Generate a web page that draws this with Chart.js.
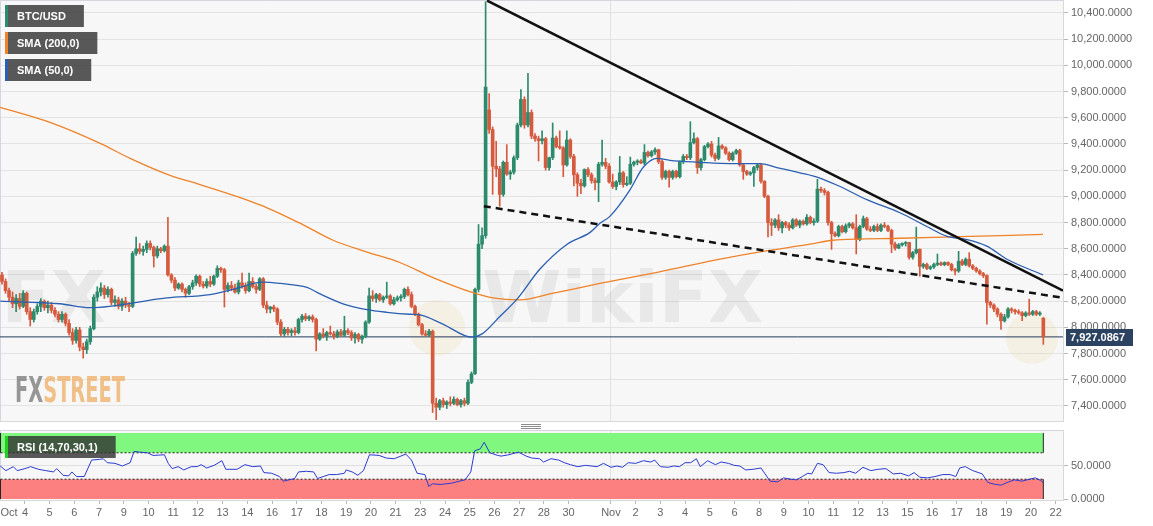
<!DOCTYPE html>
<html>
<head>
<meta charset="utf-8">
<script src="https://cdn.jsdelivr.net/npm/chart.js@4.4.1/dist/chart.umd.min.js"></script>
<style>
  html, body { margin: 0; padding: 0; background: #fff; }
  #wrap { width: 1153px; height: 526px; overflow: hidden; }
  canvas { display: block; }
</style>
</head>
<body>
<div id="wrap">
  <canvas id="priceChart" width="1153" height="422"></canvas>
  <canvas id="rsiChart" width="1153" height="104"></canvas>
</div>
<script>
// BTC/USD, 4h candles (index 0 = first candle on the left)
const opens = [
  8400,8350,8280,8230,8180,8220,8160,8260,8120,8060,
  8120,8160,8200,8150,8170,8130,8100,8060,8100,8030,
  7960,7900,7980,7850,7830,7890,7990,8230,8270,8300,
  8250,8290,8190,8210,8160,8200,8170,8160,8565,8600,
  8580,8595,8640,8610,8545,8600,8585,8620,8400,8360,
  8300,8330,8290,8260,8310,8340,8390,8330,8315,8350,
  8330,8390,8450,8440,8290,8320,8300,8270,8340,8320,
  8280,8350,8310,8290,8370,8170,8140,8155,8140,8040,
  7950,7985,7960,7975,7960,8060,8085,8065,8080,8060,
  7910,7950,7935,7960,7950,7930,7965,7940,7975,7960,
  7920,7945,7910,7930,8040,8240,8220,8250,8210,8230,
  8240,8180,8210,8225,8235,8290,8250,8160,8100,8020,
  7950,7940,7970,7420,7390,7440,7410,7430,7420,7450,
  7410,7440,7420,7580,7645,8290,8635,8700,9660,9510,
  9230,9210,9015,9260,9170,9185,9295,9545,9740,9545,
  9640,9460,9440,9425,9440,9220,9295,9445,9380,9370,
  9240,9430,9305,9165,9100,9080,9205,9165,9120,9105,
  9245,9260,9230,9110,9075,9110,9180,9090,9100,9245,
  9260,9270,9255,9335,9310,9340,9355,9265,9145,9190,
  9145,9190,9150,9265,9305,9295,9410,9440,9220,9280,
  9380,9400,9315,9290,9385,9370,9330,9280,9330,9350,
  9240,9190,9170,9180,9220,9240,9115,9000,8800,8780,
  8820,8760,8800,8780,8760,8820,8780,8810,8790,8840,
  8800,8810,9055,9045,9030,8800,8715,8700,8770,8730,
  8775,8790,8760,8670,8770,8830,8750,8740,8770,8740,
  8780,8770,8740,8635,8605,8630,8640,8648,8535,8570,
  8595,8465,8480,8450,8462,8480,8490,8478,8495,8480,
  8440,8430,8505,8480,8520,8470,8450,8430,8410,8395,
  8190,8170,8140,8100,8050,8080,8140,8130,8120,8110,
  8090,8110,8100,8120,8100,8070
];
const highs = [
  8420,8370,8300,8270,8250,8260,8280,8270,8150,8140,
  8180,8220,8210,8200,8190,8150,8120,8120,8110,8060,
  7990,8000,8000,7880,7910,8010,8250,8310,8340,8320,
  8310,8300,8240,8230,8220,8230,8190,8580,8690,8640,
  8620,8660,8660,8620,8620,8610,8630,8840,8410,8380,
  8340,8340,8300,8320,8360,8400,8400,8350,8370,8390,
  8400,8470,8460,8450,8340,8350,8330,8360,8415,8340,
  8415,8380,8330,8380,8380,8200,8160,8170,8150,8060,
  8000,8000,7990,8000,8070,8100,8105,8090,8095,8070,
  7960,7990,7970,8010,7970,7980,7985,8085,7990,7975,
  7960,7955,7940,8050,8300,8280,8260,8260,8240,8345,
  8250,8230,8240,8250,8300,8310,8270,8170,8110,8030,
  7975,7985,7980,7460,7450,7460,7440,7470,7470,7460,
  7450,7460,7600,7660,8300,8785,8760,10485,9785,9530,
  9420,9230,9270,9395,9200,9310,9560,9815,9760,9940,
  9660,9480,9460,9500,9450,9300,9560,9460,9500,9380,
  9500,9440,9320,9180,9130,9210,9220,9180,9140,9260,
  9430,9290,9250,9170,9120,9305,9190,9150,9300,9270,
  9280,9280,9395,9345,9350,9370,9360,9280,9200,9200,
  9200,9200,9270,9320,9320,9570,9485,9450,9290,9390,
  9410,9420,9330,9450,9395,9380,9340,9340,9360,9360,
  9250,9200,9190,9230,9250,9250,9120,9010,8830,8830,
  8860,8810,8810,8800,8830,8830,8820,8820,8860,8850,
  8830,9130,9070,9060,9040,8810,8730,8780,8780,8790,
  8800,8800,8860,8780,8850,8840,8770,8780,8790,8790,
  8800,8780,8750,8650,8640,8645,8655,8650,8580,8765,
  8600,8490,8490,8470,8490,8560,8500,8500,8500,8490,
  8450,8580,8520,8530,8570,8480,8460,8440,8420,8400,
  8200,8180,8150,8110,8100,8150,8150,8140,8135,8120,
  8120,8215,8130,8130,8120,8075
];
const lows = [
  8330,8260,8200,8150,8120,8140,8150,8100,8010,8040,
  8100,8120,8130,8110,8110,8080,8040,8040,8010,7940,
  7870,7880,7820,7765,7800,7870,7980,8200,8240,8220,
  8230,8170,8160,8140,8130,8150,8120,8150,8550,8560,
  8550,8570,8590,8460,8530,8570,8575,8390,8340,8280,
  8290,8270,8230,8250,8290,8320,8310,8300,8300,8310,
  8320,8380,8420,8155,8270,8280,8260,8255,8300,8260,
  8270,8300,8260,8280,8150,8110,8110,8120,8020,7935,
  7930,7940,7935,7940,7950,8040,8050,8050,8040,7820,
  7900,7920,7900,7940,7910,7920,7930,7930,7945,7900,
  7880,7890,7880,7920,8030,8200,8190,8200,8190,8220,
  8170,8170,8200,8200,8220,8240,8150,8090,8010,7940,
  7935,7930,7350,7295,7370,7390,7380,7400,7410,7400,
  7390,7400,7410,7570,7640,8270,8600,8680,9480,9015,
  9150,8925,9000,9160,9130,9170,9280,9530,9520,9530,
  9440,9420,9270,9400,9200,9200,9280,9370,9360,9150,
  9230,9290,9080,9000,9020,9070,9150,9100,9050,8960,
  9230,9210,9100,9060,9050,9090,9070,9080,9090,9230,
  9240,9250,9240,9300,9300,9320,9250,9130,9130,9070,
  9130,9140,9140,9250,9280,9280,9400,9175,9200,9270,
  9370,9300,9270,9280,9360,9320,9270,9270,9320,9230,
  9130,9160,9160,9075,9200,9100,8990,8690,8700,8760,
  8740,8720,8760,8740,8750,8770,8760,8780,8780,8790,
  8780,8800,9030,9010,8780,8595,8690,8690,8720,8720,
  8760,8750,8560,8660,8760,8740,8730,8730,8730,8730,
  8760,8730,8570,8590,8600,8620,8620,8520,8520,8560,
  8390,8450,8440,8440,8450,8470,8470,8470,8470,8430,
  8400,8420,8470,8470,8460,8440,8420,8400,8380,8025,
  8150,8120,8080,7985,8040,8070,8110,8100,8100,8050,
  8080,8090,8090,8090,8090,7870
];
const closes = [
  8350,8280,8230,8180,8220,8160,8260,8120,8060,8120,
  8160,8200,8150,8170,8130,8100,8060,8100,8030,7960,
  7900,7980,7850,7830,7890,7990,8230,8270,8300,8250,
  8290,8190,8210,8160,8200,8170,8160,8565,8600,8580,
  8595,8640,8610,8545,8600,8585,8620,8400,8360,8300,
  8330,8290,8260,8310,8340,8390,8330,8315,8350,8330,
  8390,8450,8440,8290,8320,8300,8270,8340,8320,8280,
  8350,8310,8290,8370,8170,8140,8155,8140,8040,7950,
  7985,7960,7975,7960,8060,8085,8065,8080,8060,7910,
  7950,7935,7960,7950,7930,7965,7940,7975,7960,7920,
  7945,7910,7930,8040,8240,8220,8250,8210,8230,8240,
  8180,8210,8225,8235,8290,8250,8160,8100,8020,7950,
  7940,7970,7420,7390,7440,7410,7430,7420,7450,7410,
  7440,7420,7580,7645,8290,8635,8700,9835,9510,9230,
  9210,9015,9260,9170,9185,9295,9545,9740,9545,9640,
  9460,9440,9425,9440,9220,9295,9445,9380,9370,9240,
  9430,9305,9165,9100,9080,9205,9165,9120,9105,9245,
  9260,9230,9110,9075,9110,9180,9090,9100,9245,9260,
  9270,9255,9335,9310,9340,9355,9265,9145,9190,9145,
  9190,9150,9265,9305,9295,9410,9440,9220,9280,9380,
  9400,9315,9290,9385,9370,9330,9280,9330,9350,9240,
  9190,9170,9180,9220,9240,9115,9000,8800,8780,8820,
  8760,8800,8780,8760,8820,8780,8810,8790,8840,8800,
  8810,9055,9045,9030,8800,8715,8700,8770,8730,8775,
  8790,8760,8670,8770,8830,8750,8740,8770,8740,8780,
  8770,8740,8635,8605,8630,8640,8648,8535,8570,8595,
  8465,8480,8450,8462,8480,8490,8478,8495,8480,8440,
  8430,8505,8480,8520,8470,8450,8430,8410,8395,8190,
  8170,8140,8100,8050,8080,8140,8130,8120,8110,8090,
  8110,8100,8120,8100,8110,7927
];

// moving averages (candle index, price)
const sma200Idx = [-0.5, 13.6, 27.8, 36.3, 47.6, 56.1, 73.1, 84.4, 93.8, 103.4, 112.7, 122.1, 133.4, 139.1, 146.7, 155.2, 169.4, 185.6, 204.2, 215.6, 228.9, 235.4, 254.4, 268.6, 294.9];
const sma200Val = [9680, 9565, 9405, 9290, 9160, 9090, 8935, 8795, 8665, 8575, 8495, 8380, 8265, 8225, 8210, 8255, 8335, 8420, 8525, 8580, 8635, 8665, 8680, 8690, 8710];
const sma50Idx = [-0.5, 16.4, 24.9, 46.7, 58.9, 65.4, 73.9, 78.8, 86.4, 90.1, 96.6, 103.4, 109.1, 115.6, 118.4, 124.9, 133.1, 136, 141.1, 145.9, 152.4, 160.1, 166.6, 169.4, 172.2, 177.9, 181.6, 185.6, 189.2, 197.7, 206.2, 214.7, 219.5, 226, 231.7, 237.4, 245, 254.4, 262, 267.7, 273.4, 279, 284.7, 294.9];
const sma50Val = [8200, 8180, 8150, 8225, 8250, 8290, 8345, 8335, 8305, 8255, 8180, 8135, 8115, 8100, 8095, 8025, 7925, 7950, 8085, 8215, 8445, 8635, 8725, 8795, 8847, 9050, 9220, 9290, 9275, 9260, 9250, 9250, 9220, 9180, 9140, 9075, 8975, 8875, 8770, 8695, 8670, 8620, 8520, 8400];

// RSI (14)
const rsiIdx = [-0.5, 1.1, 3.2, 4.3, 6.5, 8.1, 10.3, 12.4, 14.6, 15.5, 17.3, 18.9, 19.8, 21.1, 23.3, 25.4, 27.6, 28.7, 29.8, 32, 34.1, 36.3, 37.4, 39, 41.2, 42.8, 46, 47.1, 48.2, 49.9, 51.5, 53.6, 55.3, 56.4, 58, 60.1, 62.3, 63.4, 66.6, 68.8, 71, 73.2, 74.2, 76.4, 78.6, 79.7, 81.3, 82.9, 84, 86.2, 88.3, 89.4, 91, 92.7, 94.8, 97, 97.5, 99.2, 100.8, 102.4, 104.1, 106.8, 108.9, 111.1, 114.4, 116, 117.6, 119.8, 120.9, 122, 124.1, 127.4, 129.5, 131.2, 132.8, 133.9, 135.5, 136.6, 138.2, 140.4, 141.4, 143.6, 146.3, 148.5, 150.1, 152.3, 153.4, 155.5, 157.7, 159.3, 161, 163.1, 165.3, 168.6,
  170.4, 172.5, 174.2, 175.8, 177.4, 179.5, 181.7, 183.8, 184.9, 186.5, 188.7, 190.3, 191.9, 193.5, 195.1, 196.7, 197.8, 199.9, 202.1, 203.7, 205.8, 207.4, 209, 210.7, 212.8, 215, 217.6, 219.8, 221.4, 223.5, 225.1, 226.7, 228.3, 229.4, 231, 232.6, 234.3, 236.4, 238.5, 240.1, 241.8, 243.9, 246.1, 248.2, 250.4, 252.5, 254.6, 256.8, 258.4, 260, 262.2, 264.3, 266.5, 268.6, 270.2, 271.3, 272.9, 275, 277.7, 279.3, 281.4, 283.1, 284.7, 286.8, 288.9, 291.1, 292.7, 294.3, 294.9];
const rsiVal = [50, 43, 49, 43, 46, 49, 45, 43, 41, 46, 36, 35, 41, 34, 34, 59, 60, 61, 55, 54, 50, 55, 72, 71, 70, 66, 67, 54, 46, 49, 44, 49, 49, 52, 47, 51, 58, 45, 45, 52, 49, 50, 40, 39, 34, 27, 29, 31, 41, 42, 41, 31, 34, 37, 37, 39, 44, 41, 36, 43, 67, 66, 62, 61, 68, 59, 39, 37, 19, 23, 22, 24, 27, 29, 41, 73, 76, 86, 70, 66, 65, 67, 71, 65, 62, 61, 56, 61, 59, 55, 52, 49, 51, 49,
  54, 48, 50, 48, 55, 54, 58, 56, 59, 49, 48, 50, 49, 55, 55, 61, 49, 58, 52, 56, 54, 51, 50, 44, 45, 47, 27, 26, 32, 30, 29, 34, 39, 38, 54, 52, 40, 39, 40, 42, 39, 48, 43, 45, 46, 38, 39, 35, 40, 33, 32, 34, 37, 37, 34, 47, 49, 43, 38, 25, 22, 21, 25, 29, 27, 30, 32, 28, 25];

const lastPrice = 7927.0867;
// trend lines: [candle index, price]
const trendTop = [[137.4, 10495], [300.57, 8280]];
const trendBottom = [[136.5, 8925], [300.57, 8225]];

const priceTicks = [7400, 7600, 7800, 8000, 8200, 8400, 8600, 8800, 9000, 9200, 9400, 9600, 9800, 10000, 10200, 10400];
const rsiTicks = [0, 50];
const rsiOver = 70, rsiUnder = 30;

const dateTickIdx = [2, 6.5, 13.5, 20.5, 27.5, 34.5, 41.5, 48.5, 55.5, 62.5, 69.5, 76.5, 83.5, 90.5, 97.5, 104.5, 111.5, 118.5, 125.5, 132.5, 139.5, 146.5, 153.5, 160.5,
  172.5, 179.5, 186.5, 193.5, 200.5, 207.5, 214.5, 221.5, 228.5, 235.5, 242.5, 249.5, 256.5, 263.5, 270.5, 277.5, 284.5, 291.5, 298.5];
const dateTickLabels = ['Oct', '4', '5', '6', '7', '9', '10', '11', '12', '13', '14', '16', '17', '18', '19', '20', '21', '23', '24', '25', '26', '27', '28', '30',
  'Nov', '2', '3', '4', '5', '6', '8', '9', '10', '11', '12', '13', '15', '16', '17', '18', '19', '20', '22'];

const legendNames = ['BTC/USD', 'SMA (200,0)', 'SMA (50,0)'];
const rsiName = 'RSI (14,70,30,1)';

// ---------------------------------------------------------------
const UP = '#2c8a6d';
const DOWN = '#d65a3e';
const SMA200_COLOR = '#f08228';
const SMA50_COLOR = '#2a5fb2';
const X_MIN = -0.567, X_MAX = 300.57;
const NOV_TICK = 172.5;
const FONT = '"Liberation Sans", Arial, Helvetica, sans-serif';

Chart.defaults.font.family = FONT;
Chart.defaults.font.size = 11;
Chart.defaults.color = '#666';

const fmt4 = v => Number(v).toLocaleString('en-US', { minimumFractionDigits: 4, maximumFractionDigits: 4 });
const pts = (xs, ys) => xs.map((x, i) => ({ x, y: ys[i] }));

function noPadding(s) {
  s.paddingLeft = 0; s.paddingRight = 0; s.paddingTop = 0; s.paddingBottom = 0;
}

function timeAxis(showLabels) {
  return {
    type: 'linear',
    min: X_MIN,
    max: X_MAX,
    offset: false,
    afterBuildTicks: s => { s.ticks = dateTickIdx.map(v => ({ value: v })); },
    afterFit: s => { s.height = showLabels ? 26 : 0; noPadding(s); },
    grid: {
      offset: false,
      drawTicks: showLabels,
      tickLength: 4,
      color: c => (c.tick && c.tick.value === NOV_TICK) ? '#e2e2e2' : 'rgba(0,0,0,0)',
      tickColor: c => c.index === 0 ? 'rgba(0,0,0,0)' : '#b8b8b8',
    },
    border: { display: true, color: '#d9d9d9' },
    ticks: {
      display: showLabels,
      autoSkip: false,
      maxRotation: 0,
      minRotation: 0,
      padding: 2,
      color: '#666',
      callback: (v, i) => dateTickLabels[i],
    },
  };
}

function valueAxis(min, max, ticks, gridColor) {
  return {
    position: 'right',
    min, max,
    afterBuildTicks: s => { s.ticks = ticks.map(v => ({ value: v })); },
    afterFit: s => { s.width = 90; noPadding(s); },
    grid: { color: gridColor, tickColor: '#b8b8b8', tickLength: 5 },
    border: { display: true, color: '#d9d9d9' },
    ticks: { padding: 3, color: '#666', callback: v => fmt4(v) },
  };
}

// pane background + thin frame
const paneFrame = {
  id: 'paneFrame',
  beforeDraw(chart) {
    const { ctx, chartArea: a } = chart;
    ctx.save();
    ctx.fillStyle = '#fff';
    ctx.fillRect(0, 0, chart.width, chart.height);
    ctx.fillStyle = '#f7f7f7';
    ctx.fillRect(a.left, a.top, a.right - a.left, a.bottom - a.top);
    ctx.restore();
  },
  beforeDatasetsDraw(chart) {
    const { ctx, chartArea: a } = chart;
    ctx.save();
    ctx.strokeStyle = '#d6d6e0';
    ctx.lineWidth = 1;
    ctx.beginPath();
    ctx.moveTo(a.left + 0.5, a.bottom);
    ctx.lineTo(a.left + 0.5, a.top + 0.5);
    ctx.lineTo(a.right, a.top + 0.5);
    ctx.stroke();
    ctx.restore();
  },
};

function drawTag(ctx, x, y, text, strip) {
  ctx.save();
  ctx.font = 'bold 11px ' + FONT;
  const w = 12 + ctx.measureText(text).width + 18;
  ctx.fillStyle = 'rgba(48,48,48,0.8)';
  ctx.fillRect(x, y, w, 22);
  ctx.fillStyle = strip;
  ctx.fillRect(x, y, 3, 22);
  ctx.fillStyle = '#fff';
  ctx.textBaseline = 'middle';
  ctx.fillText(text, x + 12, y + 11.5);
  ctx.restore();
}

// faint watermarks under the candles
const watermark = {
  id: 'watermark',
  beforeDatasetsDraw(chart) {
    const { ctx } = chart;
    ctx.save();
    ctx.fillStyle = 'rgba(236,206,130,0.16)';
    ctx.beginPath(); ctx.arc(437, 328, 28, 0, Math.PI * 2); ctx.fill();
    ctx.beginPath(); ctx.arc(1032, 338, 26, 0, Math.PI * 2); ctx.fill();
    ctx.font = 'bold 72px "DejaVu Sans", sans-serif';
    ctx.fillStyle = 'rgba(110,110,110,0.10)';
    ctx.textBaseline = 'alphabetic';
    ctx.textAlign = 'left';
    ctx.fillText('WikiFX', 482, 322);
    ctx.textAlign = 'right';
    ctx.fillText('WikiFX', 106, 322);
    ctx.restore();
  },
};

const priceOverlay = {
  id: 'priceOverlay',
  afterDraw(chart) {
    const { ctx, chartArea: a } = chart;
    const strips = [UP, SMA200_COLOR, SMA50_COLOR];
    legendNames.forEach((name, i) => drawTag(ctx, 5, 5 + i * 27, name, strips[i]));

    // FXSTREET mark
    ctx.save();
    ctx.font = 'bold 36px "DejaVu Sans Condensed", "DejaVu Sans", sans-serif';
    const wFx = ctx.measureText('FX').width;
    const wAll = ctx.measureText('FXSTREET').width;
    ctx.translate(15, 402);
    ctx.scale(110 / wAll, 1);
    ctx.fillStyle = 'rgba(125,125,125,0.8)';
    ctx.fillText('FX', 0, 0);
    ctx.fillStyle = 'rgba(238,178,108,0.8)';
    ctx.fillText('STREET', wFx, 0);
    ctx.restore();

    // last price flag on the axis
    const y = chart.scales.y.getPixelForValue(lastPrice);
    ctx.save();
    ctx.fillStyle = '#2b4260';
    ctx.fillRect(a.right + 3, Math.round(y) - 8, 67, 17);
    ctx.fillStyle = '#fff';
    ctx.font = 'bold 11px ' + FONT;
    ctx.textBaseline = 'middle';
    ctx.fillText(fmt4(lastPrice), a.right + 7, Math.round(y) + 1);
    ctx.restore();
  },
};

const rsiOverlay = {
  id: 'rsiOverlay',
  beforeDatasetsDraw(chart) {
    const { ctx } = chart;
    ctx.save();
    ctx.strokeStyle = '#8c8c8c';
    ctx.lineWidth = 1;
    [2.5, 4.5, 6.5].forEach(y => {
      ctx.beginPath(); ctx.moveTo(521, y); ctx.lineTo(541, y); ctx.stroke();
    });
    ctx.restore();
  },
  afterDraw(chart) {
    drawTag(chart.ctx, 5, 14, rsiName, '#1fd21f');
  },
};

// ---------------------------------------------------------------
const candleColors = closes.map((c, i) => c >= opens[i] ? UP : DOWN);
const bodyData = closes.map((c, i) => ({ x: i, y: [opens[i], c] }));
const wickData = closes.map((c, i) => ({ x: i, y: [lows[i], highs[i]] }));

const lineBase = { type: 'line', pointRadius: 0, fill: false, borderCapStyle: 'butt' };

new Chart(document.getElementById('priceChart'), {
  type: 'bar',
  data: {
    datasets: [
      { ...lineBase, data: [{ x: X_MIN, y: lastPrice }, { x: X_MAX, y: lastPrice }], borderColor: '#243b5a', borderWidth: 1, order: 9 },
      { type: 'bar', data: wickData, backgroundColor: candleColors, barThickness: 1, grouped: false, order: 8 },
      { type: 'bar', data: bodyData, backgroundColor: candleColors, barThickness: 3, minBarLength: 1, grouped: false, order: 7 },
      { ...lineBase, data: pts(sma200Idx, sma200Val), borderColor: SMA200_COLOR, borderWidth: 1.3, cubicInterpolationMode: 'monotone', order: 3 },
      { ...lineBase, data: pts(sma50Idx, sma50Val), borderColor: SMA50_COLOR, borderWidth: 1.3, cubicInterpolationMode: 'monotone', order: 2 },
      { ...lineBase, data: trendTop.map(([x, y]) => ({ x, y })), borderColor: '#111', borderWidth: 2.5, order: 1 },
      { ...lineBase, data: trendBottom.map(([x, y]) => ({ x, y })), borderColor: '#111', borderWidth: 2.5, borderDash: [7, 5], order: 1 },
    ],
  },
  options: {
    responsive: false,
    animation: false,
    devicePixelRatio: 1,
    events: [],
    layout: { padding: { left: 0, right: 0, top: 0, bottom: 1 } },
    plugins: { legend: { display: false }, tooltip: { enabled: false } },
    scales: {
      x: timeAxis(false),
      y: valueAxis(7285, 10499, priceTicks, '#e3e3e3'),
    },
  },
  plugins: [paneFrame, watermark, priceOverlay],
});

const bandStart = -0.42, bandEnd = 295;
const edge = (x, y0, y1) => ({ ...lineBase, data: [{ x, y: y0 }, { x, y: y1 }], borderColor: '#222', borderWidth: 1, order: 4 });

new Chart(document.getElementById('rsiChart'), {
  type: 'line',
  data: {
    datasets: [
      { ...lineBase, data: [{ x: bandStart, y: 100 }, { x: bandEnd, y: 100 }], borderWidth: 0, order: 6 },
      { ...lineBase, data: [{ x: bandStart, y: rsiOver }, { x: bandEnd, y: rsiOver }], fill: '-1', backgroundColor: '#80f880', borderColor: '#222', borderWidth: 1, borderDash: [2, 2], order: 5 },
      { ...lineBase, data: [{ x: bandStart, y: rsiUnder }, { x: bandEnd, y: rsiUnder }], borderColor: '#222', borderWidth: 1, borderDash: [2, 2], order: 5 },
      { ...lineBase, data: [{ x: bandStart, y: 0 }, { x: bandEnd, y: 0 }], fill: '-1', backgroundColor: '#fd8080', borderWidth: 0, order: 6 },
      edge(bandStart, rsiOver, 100),
      edge(bandEnd, rsiOver, 100),
      edge(bandStart, 0, rsiUnder),
      edge(bandEnd, 0, rsiUnder),
      { ...lineBase, data: pts(rsiIdx, rsiVal), borderColor: '#2a3bd2', borderWidth: 1, tension: 0, order: 0 },
    ],
  },
  options: {
    responsive: false,
    animation: false,
    devicePixelRatio: 1,
    events: [],
    layout: { padding: { left: 0, right: 0, top: 8, bottom: 0 } },
    plugins: { legend: { display: false }, tooltip: { enabled: false } },
    scales: {
      x: timeAxis(true),
      y: valueAxis(-1.5, 104.5, rsiTicks, c => (c.tick && c.tick.value === 50) ? '#dedede' : 'rgba(0,0,0,0)'),
    },
  },
  plugins: [paneFrame, rsiOverlay],
});
</script>
</body>
</html>
